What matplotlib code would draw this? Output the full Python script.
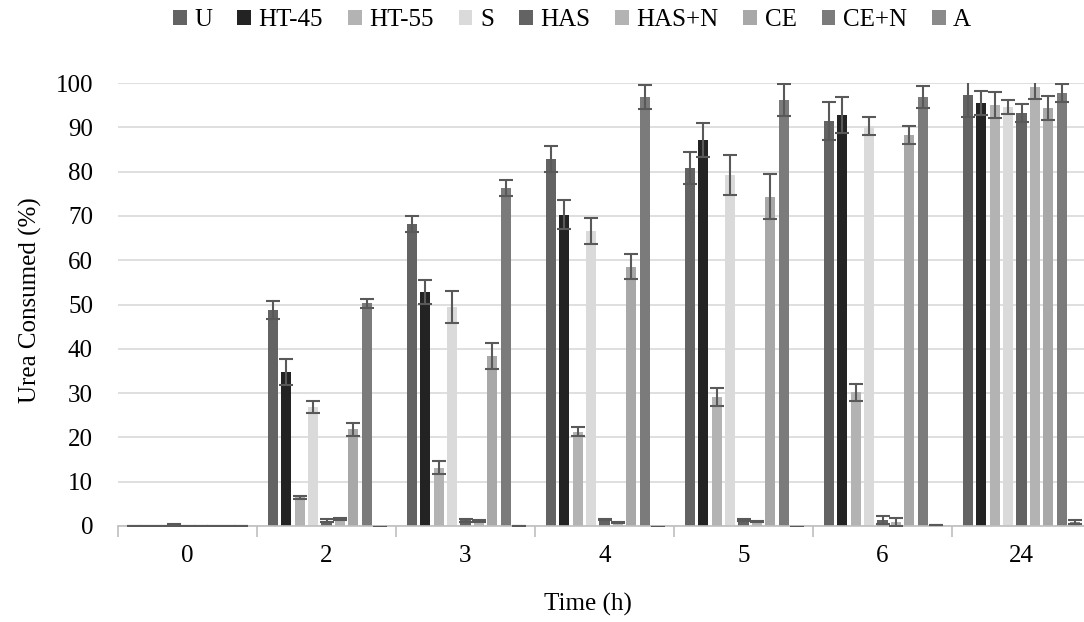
import matplotlib
matplotlib.use("Agg")
import matplotlib.pyplot as plt
import numpy as np

plt.rcParams['font.family'] = ['Liberation Serif', 'DejaVu Serif']

times = ["0", "2", "3", "4", "5", "6", "24"]
series = ["U", "HT-45", "HT-55", "S", "HAS", "HAS+N", "CE", "CE+N", "A"]

U      = [0.0, 48.8, 68.2, 82.8, 80.8, 91.4, 97.4]
HT45   = [0.0, 34.8, 52.8, 70.3, 87.1, 92.8, 95.4]
HT55   = [0.0, 6.5, 13.2, 21.3, 29.1, 30.2, 95.0]
S      = [0.3, 26.9, 49.4, 66.6, 79.2, 90.3, 94.6]
HAS    = [0.0, 1.2, 1.3, 1.4, 1.3, 1.4, 93.2]
HASN   = [0.0, 1.5, 1.1, 0.7, 1.0, 1.0, 99.1]
CE     = [0.0, 21.8, 38.4, 58.5, 74.3, 88.3, 94.4]
CEN    = [0.0, 50.3, 76.3, 96.8, 96.2, 96.8, 97.7]
A      = [0.0, -0.3, 0.1, -0.3, -0.3, 0.2, 0.9]

U_err    = [0.0, 2.0, 1.8, 3.0, 3.6, 4.3, 5.0]
HT45_err = [0.0, 2.9, 2.7, 3.2, 3.9, 4.0, 2.7]
HT55_err = [0.0, 0.3, 1.5, 1.0, 2.0, 1.9, 3.0]
S_err    = [0.2, 1.4, 3.6, 3.0, 4.5, 2.0, 1.5]
HAS_err  = [0.0, 0.3, 0.3, 0.1, 0.2, 0.9, 2.1]
HASN_err = [0.0, 0.2, 0.2, 0.1, 0.1, 0.9, 2.7]
CE_err   = [0.0, 1.5, 3.0, 2.8, 5.1, 2.0, 2.7]
CEN_err  = [0.0, 1.0, 1.8, 2.7, 3.6, 2.5, 2.1]
A_err    = [0.0, 0.0, 0.0, 0.0, 0.0, 0.0, 0.4]

values = [U, HT45, HT55, S, HAS, HASN, CE, CEN, A]
errors = [U_err, HT45_err, HT55_err, S_err, HAS_err, HASN_err, CE_err, CEN_err, A_err]
colors = ["#636363", "#232323", "#b3b3b3", "#dadada", "#636363",
          "#b3b3b3", "#a8a8a8", "#7b7b7b", "#8a8a8a"]

W, H = 1084, 622
fig = plt.figure(figsize=(W / 100, H / 100), dpi=100)
ax = fig.add_axes([118 / W, 1 - 526 / H, (1091 - 118) / W, (526 - 83) / H])

ng = len(times)
ns = len(series)
pitch = 0.0964
bw = 0.072
x0 = np.arange(ng) + 0.5
for i, (vals, errs, c, name) in enumerate(zip(values, errors, colors, series)):
    xs = x0 + (i - (ns - 1) / 2) * pitch
    ax.bar(xs, vals, width=bw, color=c, label=name, zorder=2)
    ax.errorbar(xs, vals, yerr=errs, fmt='none', ecolor="#595959",
                elinewidth=1.5, capsize=5, capthick=1.5, zorder=3, clip_on=True)

ax.set_xlim(0, ng)
ax.set_ylim(0, 100)
ax.set_yticks(np.arange(0, 101, 10))
ax.yaxis.grid(True, color="#d9d9d9", linewidth=1.2, zorder=0)
ax.set_axisbelow(True)
ax.tick_params(axis='y', length=0, labelsize=18, pad=18, colors="black")
ax.set_xticks(x0)
ax.set_xticklabels(times)
ax.tick_params(axis='x', which='major', length=0, labelsize=18, pad=14)
ax.set_xticks(np.arange(0, ng + 1), minor=True)
ax.tick_params(axis='x', which='minor', length=8, color="#bfbfbf", width=1.2)
for s in ['top', 'right', 'left']:
    ax.spines[s].set_visible(False)
ax.spines['bottom'].set_color("#bfbfbf")
ax.spines['bottom'].set_linewidth(1.2)

fig.text(588 / W, 1 - 604 / H, "Time (h)", fontsize=18, ha='center', va='center')
fig.text(30 / W, 1 - 300 / H, "Urea Consumed (%)", fontsize=18, rotation=90,
         ha='center', va='center')

handles, labels = ax.get_legend_handles_labels()
fig.legend(handles, labels, loc='center', bbox_to_anchor=(572 / W, 1 - 20 / H),
           ncol=9, frameon=False, fontsize=18, handlelength=0.55, handleheight=0.55,
           handletextpad=0.3, columnspacing=1.0)

fig.savefig("out.png", dpi=100)
